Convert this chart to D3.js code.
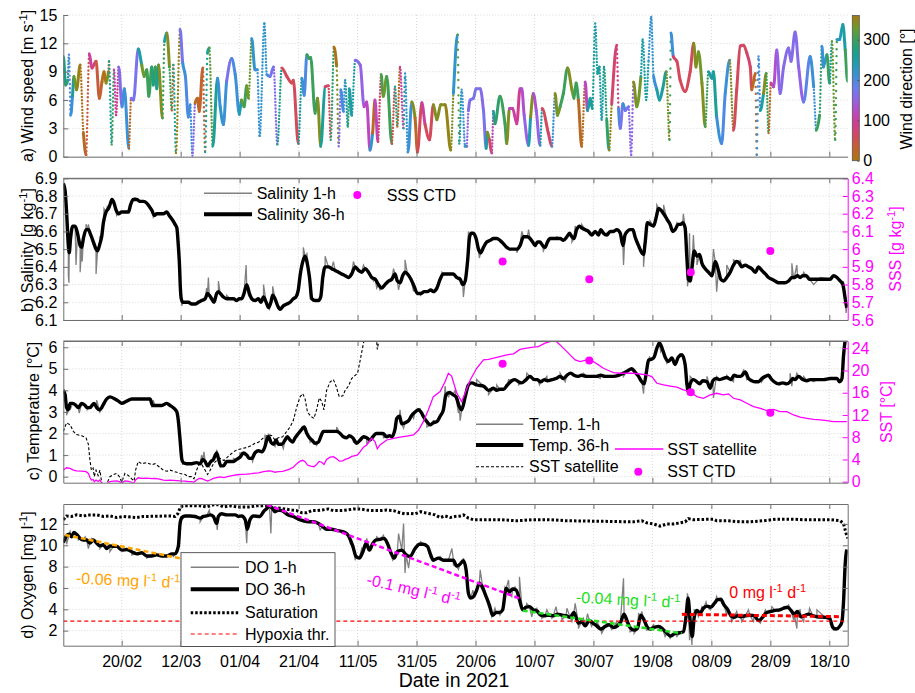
<!DOCTYPE html>
<html>
<head>
<meta charset="utf-8">
<script src="https://cdn.jsdelivr.net/npm/d3@7"></script>
<style>
  body { margin: 0; background: #fff; }
  svg { font-family: "Liberation Sans", Arial, Helvetica, sans-serif; }
</style>
</head>
<body>
<svg id="chart" width="915" height="693"></svg>
<script>
// ---- data (time = days since 1 Jan 2021) ----

// wind: [day, speed m/s, direction deg]
const wind = [[30.2,10.6,270],[31.0,7.6,290],[31.7,8.1,260],[32.1,10.8,190],[32.7,4.4,210],[33.3,6.4,260],[33.8,8.5,330],[34.7,7.1,350],[35.9,9.7,10],[37.0,2.5,20],[37.9,0.2,40],[39.0,10.9,100],[39.9,9.4,80],[41.3,10.1,40],[42.4,6.2,30],[43.3,7.9,10],[44.0,9.0,10],[44.7,7.8,340],[45.5,9.0,20],[45.7,10.1,260],[46.6,1.3,300],[47.4,9.2,110],[48.1,4.4,90],[49.0,9.5,160],[50.1,5.3,200],[50.9,7.2,210],[52.4,0.9,20],[53.2,6.2,170],[54.0,6.0,170],[55.6,11.4,250],[56.8,9.7,330],[57.6,8.5,320],[58.5,9.2,300],[59.2,6.4,300],[60.2,9.5,290],[60.7,7.6,270],[61.4,9.5,300],[61.9,7.2,260],[62.5,9.7,340],[63.8,4.1,300],[64.5,12.2,250],[65.3,13.1,340],[66.2,9.5,300],[67.0,4.9,20],[67.5,9.7,260],[68.4,0.4,350],[69.8,13.5,170],[70.7,9.9,210],[71.6,8.5,200],[72.6,4.2,200],[73.2,5.5,210],[74.0,0.1,160],[74.9,5.7,20],[75.7,6.2,20],[76.3,4.8,30],[77.5,9.4,30],[78.3,0.5,260],[79.1,11.0,260],[79.7,11.5,320],[80.9,1.1,260],[82.5,8.3,210],[83.4,5.3,220],[84.5,3.4,210],[85.6,8.0,170],[87.3,10.4,200],[88.5,8.7,210],[89.9,4.5,240],[90.6,6.0,330],[91.5,5.3,300],[92.4,7.5,330],[93.0,6.2,330],[94.1,12.5,220],[95.2,9.2,210],[96.0,9.2,210],[96.8,2.2,220],[98.4,14.1,220],[99.2,8.7,210],[100.3,8.5,170],[101.5,9.5,160],[102.8,1.3,270],[104.3,9.4,60],[106.0,8.5,60],[107.7,7.8,50],[108.2,8.1,60],[109.9,1.4,260],[111.1,8.3,210],[111.9,6.5,200],[112.8,10.8,300],[113.6,10.4,300],[114.1,10.5,300],[115.6,4.6,300],[116.4,6.2,340],[117.5,1.1,260],[119.0,7.4,70],[120.1,7.5,60],[120.9,1.8,290],[122.0,11.6,10],[122.9,9.6,340],[123.6,1.1,160],[124.3,7.1,200],[125.2,4.8,210],[125.8,8.1,250],[126.7,3.2,290],[127.2,7.2,250],[128.0,4.4,250],[129.2,10.2,160],[130.9,9.7,150],[132.2,5.3,120],[133.1,5.8,120],[134.2,0.7,220],[135.1,2.5,20],[135.9,6.0,120],[136.9,1.6,70],[138.0,8.7,310],[138.7,6.4,330],[139.9,8.5,300],[141.6,1.4,50],[142.7,7.4,260],[143.5,3.2,20],[144.4,9.5,100],[145.6,3.0,250],[146.1,8.8,220],[147.1,0.5,210],[148.4,5.8,340],[149.5,4.1,20],[150.3,0.5,60],[151.8,5.7,100],[152.9,3.4,60],[154.4,1.8,60],[155.7,5.5,340],[156.9,3.9,340],[158.2,5.5,340],[159.7,5.5,350],[161.6,0.7,340],[162.5,6.7,220],[163.9,12.9,320],[164.5,1.4,250],[165.3,7.1,210],[166.5,1.1,250],[167.0,1.1,150],[167.6,4.9,160],[168.2,6.0,170],[169.3,6.2,170],[170.2,7.2,170],[171.6,7.2,160],[172.7,4.9,170],[173.6,0.9,250],[174.0,2.6,340],[174.7,1.8,60],[175.5,0.4,120],[176.1,4.8,260],[176.6,3.5,290],[178.3,6.4,300],[180.0,3.5,300],[180.6,1.4,340],[181.5,5.1,120],[182.6,5.1,100],[184.0,3.5,90],[185.1,7.2,120],[185.7,7.2,130],[186.5,4.4,150],[188.0,1.2,240],[188.7,4.2,340],[189.6,6.7,130],[190.6,4.9,150],[191.9,1.2,240],[192.6,5.1,60],[194.7,2.5,70],[195.9,1.1,210],[197.0,6.7,340],[197.8,4.4,330],[198.7,5.3,300],[199.8,6.7,300],[201.2,9.4,340],[202.7,7.1,330],[203.4,6.2,300],[204.1,7.8,300],[204.9,6.0,20],[206.0,1.1,15],[207.2,7.9,120],[208.0,4.9,250],[208.9,6.2,260],[209.6,5.1,260],[210.6,14.1,250],[211.4,8.8,260],[212.0,9.5,250],[212.8,3.9,250],[213.6,9.5,280],[214.5,3.9,290],[215.3,0.7,350],[216.2,5.6,70],[217.9,11.8,80],[218.5,5.1,200],[219.1,3.0,170],[220.0,5.6,210],[220.8,4.9,170],[221.9,5.3,160],[222.8,0.2,150],[223.6,7.9,340],[224.7,5.3,330],[226.1,8.5,250],[226.7,12.4,250],[227.9,6.0,250],[228.7,10.2,210],[229.6,14.8,220],[230.4,8.5,210],[231.5,7.1,250],[232.4,6.0,250],[233.5,7.2,260],[234.7,9.0,340],[235.8,1.8,300],[236.3,13.1,210],[237.1,10.6,70],[238.3,10.1,60],[239.4,8.1,60],[241.1,6.9,60],[242.8,9.0,60],[244.0,12.0,340],[244.8,9.5,340],[245.6,11.1,330],[246.8,7.8,340],[247.9,3.2,300],[249.0,9.0,250],[250.2,8.3,250],[250.7,9.0,260],[251.8,4.2,210],[253.5,1.4,200],[254.7,6.7,210],[256.2,10.2,340],[257.5,2.8,60],[258.6,7.1,60],[259.8,11.7,70],[260.9,11.8,60],[262.0,11.0,70],[263.2,9.5,60],[263.7,7.1,20],[264.9,8.8,20],[265.4,0.2,210],[266.0,10.6,200],[266.6,4.9,250],[267.7,6.7,340],[268.6,8.8,300],[269.4,2.5,20],[270.2,7.8,100],[271.1,7.4,130],[272.2,11.3,150],[273.3,6.7,160],[274.5,9.5,160],[276.2,11.5,160],[277.0,10.1,160],[278.4,13.2,160],[279.6,9.5,150],[281.3,5.8,190],[283.5,10.6,210],[284.7,7.4,210],[285.6,2.8,300],[286.7,4.4,290],[287.5,11.7,210],[288.0,9.5,220],[289.2,10.8,300],[290.1,7.8,260],[290.9,12.2,330],[292.0,1.8,300],[292.6,12.4,220],[293.5,12.4,240],[294.6,14.0,250],[295.4,11.3,300],[296.2,8.0,340]];

// salinity 36-h [day, g/kg]
const sal36 = [[30.2,6.87],[30.8,6.83],[31.3,6.71],[31.9,6.52],[32.2,6.48],[32.7,6.57],[33.4,6.63],[34.2,6.63],[35.0,6.59],[35.9,6.52],[36.4,6.51],[37.0,6.56],[37.9,6.61],[38.7,6.61],[39.5,6.58],[40.4,6.54],[41.3,6.50],[41.8,6.49],[42.6,6.53],[43.2,6.57],[43.8,6.65],[44.7,6.71],[45.5,6.73],[46.0,6.75],[46.7,6.78],[47.4,6.76],[48.1,6.72],[48.9,6.70],[50.0,6.71],[51.1,6.71],[52.3,6.71],[53.0,6.75],[53.9,6.78],[55.1,6.78],[56.2,6.77],[57.3,6.77],[58.5,6.76],[59.4,6.74],[60.2,6.72],[61.1,6.69],[61.9,6.70],[63.0,6.70],[64.1,6.70],[65.3,6.71],[66.1,6.69],[67.0,6.67],[68.1,6.64],[68.7,6.62],[69.2,6.52],[69.6,6.41],[69.9,6.28],[70.2,6.22],[70.7,6.20],[71.5,6.20],[72.6,6.20],[73.7,6.19],[74.9,6.19],[76.0,6.20],[77.1,6.21],[78.3,6.22],[79.1,6.25],[79.7,6.24],[80.5,6.22],[81.3,6.20],[82.2,6.25],[82.8,6.26],[83.4,6.25],[84.5,6.23],[85.6,6.22],[86.8,6.22],[87.9,6.22],[89.0,6.21],[89.9,6.22],[90.7,6.22],[91.5,6.25],[92.4,6.30],[93.3,6.25],[94.1,6.22],[95.2,6.21],[96.4,6.22],[97.2,6.20],[98.1,6.23],[99.0,6.20],[99.8,6.17],[100.6,6.20],[101.2,6.24],[102.0,6.22],[102.9,6.18],[103.7,6.16],[104.8,6.18],[106.0,6.19],[107.1,6.20],[108.2,6.22],[109.1,6.23],[109.9,6.27],[110.5,6.35],[111.6,6.44],[112.2,6.46],[112.8,6.43],[113.7,6.34],[114.5,6.22],[115.6,6.21],[116.7,6.21],[117.5,6.23],[118.2,6.34],[119.0,6.40],[120.1,6.40],[121.2,6.39],[122.4,6.38],[123.5,6.37],[124.6,6.36],[125.8,6.35],[126.9,6.34],[128.0,6.36],[129.2,6.40],[130.3,6.38],[131.4,6.37],[132.6,6.39],[133.7,6.37],[134.8,6.34],[136.0,6.33],[137.1,6.30],[138.2,6.28],[139.3,6.30],[140.5,6.32],[141.6,6.33],[142.7,6.36],[143.5,6.32],[144.4,6.31],[145.3,6.35],[146.1,6.37],[146.9,6.36],[148.1,6.33],[149.2,6.29],[150.3,6.25],[151.4,6.25],[152.6,6.26],[153.7,6.26],[154.8,6.27],[155.7,6.26],[156.9,6.28],[158.0,6.33],[159.1,6.36],[160.3,6.36],[161.4,6.36],[162.5,6.36],[163.6,6.34],[164.8,6.33],[165.7,6.30],[166.5,6.32],[167.3,6.43],[168.0,6.57],[168.6,6.59],[169.3,6.59],[170.2,6.56],[171.0,6.50],[171.8,6.48],[172.7,6.51],[173.8,6.54],[175.0,6.55],[176.1,6.56],[177.2,6.56],[178.3,6.55],[179.5,6.53],[180.6,6.51],[181.7,6.50],[182.9,6.50],[184.0,6.50],[185.1,6.52],[186.3,6.57],[187.6,6.57],[188.5,6.56],[189.4,6.54],[190.2,6.52],[191.0,6.54],[191.9,6.54],[192.8,6.52],[193.6,6.51],[194.4,6.54],[195.3,6.56],[196.4,6.56],[197.6,6.56],[198.7,6.56],[199.8,6.55],[201.0,6.57],[201.9,6.59],[202.7,6.57],[203.4,6.56],[204.3,6.61],[205.3,6.63],[206.0,6.62],[207.2,6.61],[208.3,6.60],[209.4,6.58],[210.6,6.60],[211.7,6.58],[212.5,6.61],[213.4,6.59],[214.5,6.58],[215.7,6.60],[216.8,6.60],[217.9,6.61],[219.1,6.59],[220.0,6.52],[220.7,6.58],[221.5,6.60],[222.4,6.61],[223.4,6.61],[224.1,6.57],[225.3,6.52],[226.4,6.48],[227.0,6.47],[227.5,6.53],[228.3,6.65],[229.2,6.64],[230.4,6.63],[231.3,6.68],[232.1,6.73],[232.9,6.72],[233.8,6.70],[234.9,6.67],[236.0,6.64],[236.9,6.60],[237.7,6.61],[238.8,6.64],[239.6,6.64],[240.3,6.65],[241.1,6.62],[241.7,6.45],[242.2,6.33],[242.8,6.32],[243.4,6.39],[244.2,6.49],[245.1,6.46],[246.0,6.47],[246.8,6.42],[247.9,6.39],[249.0,6.37],[250.2,6.35],[251.3,6.43],[252.4,6.38],[253.2,6.33],[254.1,6.32],[255.2,6.34],[256.4,6.37],[257.5,6.41],[258.6,6.43],[259.5,6.42],[260.3,6.40],[261.5,6.41],[262.6,6.40],[263.7,6.39],[264.9,6.37],[266.0,6.40],[267.1,6.38],[268.3,6.36],[269.4,6.34],[270.5,6.33],[271.6,6.32],[272.8,6.31],[275.0,6.31],[276.2,6.32],[277.3,6.34],[278.1,6.34],[279.2,6.35],[280.1,6.34],[281.0,6.35],[282.2,6.35],[283.3,6.33],[290.3,6.33],[291.4,6.35],[292.6,6.34],[293.7,6.32],[294.6,6.30],[295.4,6.22],[295.9,6.17]];

// extra 1-h salinity excursions [day, g/kg]
const sal1hPeaks = [[31.9,6.35],[32.1,6.31],[32.7,6.54],[34.5,6.41],[35.9,6.37],[36.6,6.43],[37.9,6.64],[38.7,6.64],[41.3,6.36],[42.6,6.57],[44.0,6.73],[45.1,6.74],[48.3,6.69],[54.5,6.79],[60.7,6.68],[67.0,6.67],[70.4,6.18],[78.8,6.28],[79.4,6.34],[80.0,6.23],[82.8,6.32],[85.6,6.24],[92.2,6.41],[93.0,6.24],[98.1,6.30],[100.1,6.16],[101.2,6.29],[111.6,6.51],[112.8,6.48],[113.9,6.22],[119.0,6.46],[121.8,6.43],[128.6,6.43],[132.0,6.41],[135.4,6.32],[136.5,6.28],[137.6,6.27],[142.2,6.39],[143.9,6.27],[146.1,6.44],[149.0,6.26],[151.4,6.24],[158.6,6.37],[165.9,6.23],[167.6,6.60],[171.3,6.45],[184.0,6.48],[185.7,6.60],[188.0,6.61],[193.0,6.49],[197.6,6.57],[202.7,6.54],[203.8,6.63],[206.0,6.64],[214.5,6.59],[220.2,6.41],[227.0,6.40],[229.2,6.66],[231.5,6.75],[233.8,6.75],[238.3,6.65],[240.5,6.70],[241.9,6.29],[242.6,6.59],[243.9,6.58],[245.1,6.41],[250.7,6.50],[251.8,6.26],[255.2,6.41],[257.5,6.44],[259.8,6.44],[264.3,6.37],[277.3,6.42],[277.9,6.33],[279.0,6.41],[281.3,6.37],[284.7,6.30],[286.9,6.34],[294.8,6.32],[295.7,6.14]];

// CTD casts
const ctdDates = [179.2, 208.6, 243.0, 270.0];
const sssCTD = [5.93, 5.83, 5.87, 5.99];
const sstCTD = [21.2, 21.8, 16.1, 12.4];

// temperature 36-h [day, degC]
const temp36 = [[30.2,4.0],[30.8,3.8],[31.3,3.2],[31.9,3.1],[32.5,3.4],[33.4,3.4],[34.5,3.3],[35.3,3.2],[36.4,3.4],[37.6,3.3],[38.3,3.2],[39.2,3.2],[40.6,3.4],[41.5,3.2],[42.4,3.1],[43.2,3.2],[44.0,3.4],[44.9,3.6],[46.0,3.7],[47.7,3.6],[48.9,3.5],[50.0,3.4],[51.7,3.5],[53.4,3.6],[55.1,3.6],[56.8,3.6],[58.5,3.6],[59.6,3.6],[60.5,3.3],[61.3,3.3],[62.4,3.3],[63.6,3.3],[65.3,3.4],[66.4,3.3],[67.5,3.2],[68.7,3.0],[69.2,2.6],[69.8,1.7],[70.4,0.8],[70.9,0.65],[72.0,0.6],[73.7,0.6],[75.4,0.65],[76.6,0.6],[77.5,0.8],[78.3,0.7],[79.1,0.5],[80.2,0.7],[81.1,0.8],[82.2,1.1],[82.8,0.85],[83.6,0.5],[84.5,0.5],[85.6,0.7],[87.9,0.7],[89.0,0.8],[90.1,0.9],[91.3,1.1],[92.4,1.0],[93.3,0.85],[94.1,0.85],[95.2,1.1],[96.4,1.2],[97.5,1.15],[98.6,1.4],[99.2,1.7],[99.8,1.85],[100.6,1.6],[101.5,1.5],[102.4,1.7],[103.1,1.5],[104.3,1.5],[105.4,1.7],[106.2,1.85],[107.1,1.7],[108.0,1.6],[108.8,1.8],[109.9,2.0],[111.1,2.2],[111.9,2.3],[112.8,2.0],[113.7,1.8],[114.5,1.7],[115.6,1.55],[116.7,1.6],[117.5,1.85],[118.4,2.1],[120.7,2.1],[122.9,2.1],[124.1,2.0],[125.2,1.85],[126.3,1.8],[127.2,1.9],[128.4,1.8],[129.7,1.55],[130.9,1.7],[132.0,1.85],[133.1,1.8],[134.2,1.7],[135.2,1.85],[136.3,2.0],[138.6,2.0],[139.9,1.85],[140.8,1.9],[141.6,1.85],[142.7,2.2],[143.3,2.7],[144.2,2.8],[145.0,2.45],[146.1,2.5],[147.3,2.6],[148.4,2.85],[149.5,3.0],[150.7,3.1],[151.5,3.0],[152.3,2.8],[153.5,2.55],[154.6,2.4],[155.7,2.5],[156.9,2.55],[158.0,2.8],[159.1,3.1],[160.0,3.8],[161.2,3.9],[162.3,3.8],[163.4,3.7],[164.5,3.25],[165.3,3.1],[166.5,3.7],[167.6,4.25],[168.7,4.35],[170.4,4.25],[172.7,4.2],[174.4,4.0],[176.1,4.1],[177.2,4.0],[178.3,4.05],[179.5,4.05],[180.8,4.25],[182.3,4.45],[183.4,4.5],[184.6,4.4],[185.7,4.35],[187.2,4.5],[188.5,4.65],[189.9,4.5],[191.0,4.5],[192.1,4.4],[193.3,4.5],[194.4,4.45],[195.9,4.5],[197.3,4.55],[198.7,4.65],[199.8,4.55],[201.0,4.7],[202.3,4.8],[203.4,4.7],[204.9,4.65],[206.0,4.7],[207.7,4.65],[209.4,4.65],[210.9,4.65],[212.5,4.7],[214.0,4.65],[215.4,4.65],[216.8,4.65],[218.5,4.7],[220.2,4.8],[221.5,4.9],[223.0,5.0],[224.1,4.85],[225.3,4.65],[226.4,4.4],[227.2,4.3],[227.9,4.8],[228.7,5.4],[229.8,5.45],[230.6,5.55],[231.5,5.95],[232.4,6.2],[233.3,5.95],[234.3,5.55],[235.5,5.35],[236.6,5.5],[237.7,5.2],[238.8,5.55],[240.0,5.65],[241.1,5.2],[241.7,4.3],[242.2,3.95],[242.8,4.3],[243.9,4.5],[245.1,4.4],[246.0,4.3],[247.1,4.45],[248.5,4.4],[249.6,4.1],[250.5,4.45],[251.6,4.55],[252.7,4.5],[253.9,4.55],[255.2,4.6],[256.6,4.5],[257.7,4.7],[258.9,4.65],[260.0,4.65],[261.5,4.85],[262.6,4.55],[263.7,4.45],[264.9,4.4],[266.0,4.4],[267.1,4.55],[268.3,4.65],[269.4,4.7],[270.2,4.55],[271.3,4.4],[272.8,4.3],[274.2,4.35],[275.6,4.3],[276.7,4.4],[277.6,4.55],[278.4,4.5],[279.6,4.65],[281.0,4.5],[282.4,4.45],[283.5,4.5],[285.8,4.5],[288.0,4.5],[290.3,4.55],[292.6,4.55],[293.5,4.4],[294.3,4.55],[294.8,5.55],[295.4,6.3],[296.3,6.5]];

// extra 1-h temperature excursions
const temp1hPeaks = [[31.3,2.85],[32.5,3.1],[35.6,2.95],[38.3,3.1],[41.5,3.55],[42.6,3.0],[60.2,3.25],[60.7,3.55],[70.7,0.55],[77.1,1.0],[77.9,1.15],[79.7,0.45],[82.2,1.25],[83.4,0.45],[87.9,0.85],[90.1,1.1],[94.4,0.7],[98.6,1.95],[99.8,2.0],[102.0,1.4],[104.8,1.3],[111.1,2.3],[113.9,1.6],[116.1,1.45],[122.9,2.3],[128.6,1.6],[133.1,1.55],[138.8,1.8],[142.2,1.85],[144.4,3.1],[145.6,2.25],[149.0,2.7],[151.2,3.15],[153.5,2.3],[155.7,2.6],[159.7,4.2],[160.9,3.7],[163.1,4.0],[164.2,2.95],[164.8,2.6],[165.7,3.3],[167.0,3.95],[170.4,4.5],[174.4,3.8],[177.2,4.25],[181.2,4.5],[184.6,4.25],[187.4,4.8],[191.7,4.25],[194.2,4.65],[198.7,4.8],[200.4,4.4],[206.6,4.8],[212.3,4.55],[220.2,4.65],[227.0,3.85],[229.0,5.55],[232.1,6.25],[232.8,5.8],[234.9,5.25],[239.4,5.7],[241.9,3.8],[242.8,4.65],[248.5,4.65],[250.7,3.65],[251.8,4.65],[255.2,4.7],[257.5,4.4],[260.9,4.95],[262.0,4.5],[267.1,4.4],[276.7,4.8],[277.3,4.2],[279.0,4.8],[281.3,4.65],[284.7,4.4]];

// satellite SST [day, degC]
const sstSat = [[30.2,2.1],[31.3,2.5],[32.5,2.4],[33.6,2.1],[34.7,1.95],[36.4,1.9],[37.9,1.8],[38.7,1.5],[39.2,0.8],[39.7,0.3],[40.3,0.4],[40.7,0.0],[41.3,0.3],[42.0,0.05],[42.6,0.3],[43.3,-0.35],[44.7,-0.4],[46.0,0.0],[47.2,0.1],[48.3,0.15],[49.2,0.0],[50.0,-0.25],[51.1,0.15],[52.3,0.05],[53.4,-0.1],[54.2,-0.2],[54.7,0.3],[55.6,0.7],[56.8,0.6],[58.5,0.65],[60.2,0.55],[61.3,0.6],[62.8,0.45],[64.1,0.3],[65.3,0.25],[66.4,0.3],[67.5,0.25],[68.7,0.2],[69.8,0.15],[71.5,0.1],[72.6,0.0],[73.7,0.0],[74.5,-0.1],[75.4,0.3],[76.3,0.6],[77.2,0.55],[78.3,0.3],[79.1,0.1],[80.0,0.3],[81.1,0.6],[82.2,0.75],[83.4,0.85],[84.7,0.75],[86.2,0.95],[87.9,1.15],[89.2,1.25],[90.7,1.3],[92.4,1.35],[94.1,1.45],[95.2,1.55],[96.4,1.6],[98.1,1.8],[99.8,1.95],[100.9,1.9],[102.0,1.7],[103.1,1.8],[104.6,1.85],[106.0,2.1],[107.1,2.3],[108.2,2.6],[109.4,3.25],[110.5,3.7],[111.4,3.85],[112.2,3.6],[113.0,3.0],[114.1,2.8],[115.2,2.7],[116.1,3.1],[117.0,3.65],[117.8,3.5],[118.6,3.1],[119.5,4.0],[120.7,4.4],[121.8,4.5],[122.7,4.2],[123.8,3.7],[125.0,3.75],[125.8,4.0],[126.9,4.2],[128.0,4.55],[129.2,4.7],[130.0,4.8],[130.9,5.4],[132.0,6.2],[133.1,6.6],[134.8,7.8],[135.9,7.2],[136.7,5.9],[137.6,6.6],[139.9,7.5],[142.2,7.8],[144.4,8.0],[146.7,8.2],[149.0,8.4],[150.7,9.3],[152.3,10.8],[154.0,12.9],[155.7,15.3],[158.0,16.2],[159.7,18.0],[160.8,19.5],[161.9,19.0],[163.6,16.0],[165.3,14.4],[166.5,16.0],[168.2,18.3],[170.4,20.4],[172.7,21.9],[174.4,22.0],[176.1,22.2],[178.3,22.5],[180.6,22.8],[182.9,23.0],[185.1,23.8],[187.4,24.0],[189.6,24.2],[191.3,24.3],[193.6,24.9],[195.3,25.2],[197.0,25.4],[198.7,24.6],[200.4,23.7],[202.1,22.8],[203.8,21.9],[205.5,21.6],[207.7,21.9],[210.0,21.6],[211.7,21.0],[213.4,20.4],[215.1,20.0],[216.8,19.6],[219.1,19.5],[223.6,19.5],[228.1,19.2],[229.8,18.9],[231.5,17.7],[233.8,17.4],[236.0,17.2],[238.3,17.0],[240.5,16.5],[242.8,16.2],[245.1,15.3],[247.3,15.0],[249.6,15.6],[251.8,15.9],[254.1,15.6],[255.8,15.8],[257.5,15.0],[259.8,14.7],[262.0,14.1],[264.3,13.5],[266.6,13.2],[268.8,12.8],[271.1,13.0],[273.3,12.6],[275.6,12.6],[277.9,12.0],[280.1,11.6],[282.4,11.4],[284.7,11.2],[286.9,11.1],[289.2,11.0],[291.4,10.8],[295.9,10.8]];

// oxygen saturation [day, mg/l]
const doSat = [[30.2,12.4],[31.3,12.75],[33.0,12.7],[34.7,12.85],[37.0,12.75],[39.2,12.85],[41.5,12.85],[43.8,12.7],[46.0,12.75],[48.3,12.6],[50.6,12.7],[55.1,12.6],[57.3,12.7],[66.4,12.75],[68.1,12.7],[69.0,12.95],[69.8,13.5],[70.7,13.7],[76.6,13.7],[78.8,13.6],[81.1,13.8],[82.8,13.8],[84.5,13.6],[86.8,13.7],[89.0,13.6],[93.5,13.6],[95.8,13.7],[99.2,13.7],[100.9,13.5],[103.1,13.5],[105.4,13.4],[107.7,13.3],[109.4,13.25],[111.1,13.05],[112.8,13.05],[114.5,13.25],[116.1,13.25],[117.8,13.3],[120.1,13.4],[121.8,13.25],[124.1,13.25],[126.3,13.3],[128.6,13.4],[130.9,13.4],[133.1,13.3],[135.4,13.25],[137.6,13.25],[139.9,13.3],[142.2,13.25],[144.4,13.05],[146.1,12.95],[147.8,13.0],[149.5,12.95],[151.4,13.15],[152.9,13.05],[154.6,12.95],[156.3,12.85],[158.0,12.6],[159.7,12.75],[161.4,12.6],[163.1,12.7],[164.8,12.75],[165.9,12.85],[167.6,12.55],[169.3,12.4],[178.3,12.4],[184.0,12.3],[189.6,12.4],[195.3,12.4],[201.0,12.3],[223.6,12.2],[226.4,12.3],[228.1,12.1],[230.4,12.0],[232.6,11.8],[234.9,12.0],[237.1,12.0],[239.4,12.1],[241.1,12.2],[242.2,12.5],[243.9,12.4],[250.7,12.45],[251.8,12.3],[255.2,12.3],[259.8,12.2],[263.2,12.2],[267.7,12.3],[272.2,12.45],[276.7,12.45],[281.3,12.4],[290.3,12.4],[293.7,12.3],[294.8,12.05],[295.7,11.1],[296.3,10.65]];

// dissolved oxygen 36-h [day, mg/l]
const do36 = [[30.2,10.25],[30.8,10.65],[31.3,10.9],[32.2,11.05],[33.0,10.8],[33.8,11.2],[35.0,10.95],[35.9,10.65],[37.0,10.5],[38.1,10.5],[39.2,10.2],[40.4,10.5],[41.5,10.2],[42.6,9.95],[43.8,10.05],[44.9,9.7],[46.0,9.95],[47.2,9.9],[48.3,9.9],[50.0,9.55],[51.7,9.6],[53.4,9.4],[55.1,9.2],[56.8,9.3],[58.5,9.0],[60.2,9.0],[61.9,9.1],[63.6,9.0],[65.3,9.0],[67.0,9.2],[68.1,9.2],[69.2,9.9],[69.8,12.05],[70.4,12.6],[71.5,12.75],[73.2,12.75],[74.9,12.7],[76.6,12.55],[77.7,12.7],[78.8,12.75],[80.0,12.85],[81.1,12.7],[82.2,12.05],[82.8,12.7],[83.9,12.95],[85.6,12.85],[88.5,12.85],[89.6,12.7],[90.7,12.75],[91.9,12.4],[92.6,11.5],[93.5,12.4],[94.7,12.75],[96.9,12.7],[98.1,13.15],[99.2,13.45],[100.1,13.7],[100.9,13.55],[102.0,13.15],[103.1,13.3],[104.3,13.25],[105.4,13.05],[106.5,12.85],[108.2,12.7],[109.9,12.45],[111.6,12.3],[113.3,12.2],[115.0,12.2],[116.7,12.05],[118.2,11.75],[119.5,11.5],[121.2,11.5],[122.9,11.4],[124.6,11.3],[126.3,11.1],[127.5,10.55],[128.4,9.9],[129.5,8.95],[130.6,8.8],[131.8,9.4],[132.9,10.2],[134.0,9.55],[135.2,10.2],[136.3,10.5],[137.6,10.55],[139.0,10.65],[140.1,10.2],[141.3,9.3],[142.4,8.8],[143.5,9.4],[145.0,9.55],[146.5,9.1],[147.8,8.95],[149.5,9.7],[151.0,10.1],[152.3,10.1],[153.7,9.9],[154.8,9.1],[155.7,8.6],[157.4,8.8],[159.1,8.6],[160.8,8.6],[162.5,8.6],[163.6,8.05],[164.8,8.25],[165.9,8.55],[166.8,7.7],[167.6,5.5],[168.4,5.05],[169.5,5.25],[170.4,5.8],[171.3,6.45],[172.5,5.95],[173.6,5.2],[174.7,4.4],[175.8,3.45],[177.0,3.7],[178.1,3.7],[179.2,3.95],[180.4,5.95],[181.5,5.65],[182.6,5.9],[183.8,5.8],[184.9,4.9],[186.0,3.95],[187.2,4.2],[188.3,4.25],[189.6,3.95],[191.0,3.8],[192.1,3.45],[193.6,3.4],[195.1,3.45],[196.4,3.4],[197.8,3.55],[199.3,3.45],[200.7,3.4],[202.1,3.25],[203.4,3.7],[204.9,2.7],[206.0,2.85],[207.2,2.45],[208.6,2.95],[209.8,2.7],[211.1,2.45],[212.5,2.15],[214.0,2.4],[215.4,2.55],[216.8,2.3],[218.1,2.45],[219.3,2.85],[220.4,3.55],[221.3,3.0],[222.4,2.3],[223.8,2.05],[224.9,2.2],[226.1,3.45],[227.0,3.1],[228.1,2.4],[229.2,2.15],[230.6,2.3],[232.1,2.4],[233.5,2.15],[234.9,1.75],[236.2,1.5],[237.7,1.75],[239.2,1.8],[240.5,1.9],[241.4,3.3],[242.1,5.05],[242.8,2.95],[243.5,1.45],[244.2,3.3],[245.1,3.9],[246.2,3.65],[247.3,4.1],[248.5,4.3],[249.8,4.2],[251.0,4.55],[252.1,4.9],[253.2,4.95],[254.3,4.4],[255.5,4.0],[256.6,3.4],[257.7,3.25],[258.9,3.4],[260.0,3.3],[261.5,3.4],[263.0,3.45],[264.5,3.4],[266.0,2.95],[267.5,3.3],[268.8,3.7],[270.2,3.8],[271.6,3.9],[273.1,3.95],[274.5,4.1],[275.8,4.2],[277.0,3.9],[278.1,3.55],[279.2,3.8],[280.4,3.3],[281.5,3.4],[283.0,3.55],[284.4,3.4],[285.8,3.3],[288.6,3.25],[290.1,3.15],[291.2,2.3],[292.3,2.15],[293.5,2.4],[294.3,2.85],[294.8,4.55],[295.4,8.3],[295.9,9.6]];

// extra 1-h oxygen excursions
const do1hPeaks = [[31.3,10.1],[32.5,11.3],[35.3,10.5],[37.6,10.8],[38.7,9.7],[39.8,10.65],[42.6,9.7],[46.0,9.4],[53.4,9.1],[58.5,8.8],[67.5,8.95],[70.4,12.4],[76.6,12.2],[79.7,13.3],[82.4,11.45],[92.4,10.2],[100.6,11.1],[117.3,11.45],[127.5,10.2],[129.2,8.6],[131.4,9.7],[133.1,10.65],[136.5,10.8],[138.8,10.95],[141.9,8.6],[143.9,11.1],[145.6,12.05],[146.1,7.4],[147.3,7.85],[151.4,10.35],[154.6,8.95],[158.0,8.95],[162.0,9.7],[162.5,8.15],[164.2,7.75],[165.9,8.8],[167.0,7.4],[168.0,5.05],[169.1,5.8],[171.6,7.7],[172.7,6.3],[174.4,4.25],[175.5,3.3],[176.6,4.1],[178.3,3.45],[180.0,6.1],[181.2,6.75],[182.3,5.2],[183.4,6.1],[184.9,7.05],[185.7,4.4],[187.4,4.55],[189.1,3.3],[190.8,4.1],[192.5,3.15],[194.2,3.95],[195.9,3.15],[197.3,4.25],[199.3,3.0],[201.0,4.1],[202.7,2.85],[203.8,4.55],[204.9,2.2],[206.6,3.15],[208.0,3.6],[209.4,2.4],[211.1,2.85],[212.8,1.75],[214.5,2.7],[216.2,2.1],[217.9,2.85],[219.3,3.45],[220.2,6.9],[221.1,2.7],[222.4,1.9],[223.8,1.75],[225.3,3.6],[226.4,3.8],[228.1,2.05],[230.4,2.55],[232.6,2.05],[234.3,1.45],[236.0,1.3],[238.3,1.45],[240.5,2.2],[241.9,5.5],[242.6,1.1],[243.4,0.65],[244.2,3.95],[245.6,3.3],[246.8,4.25],[248.2,4.7],[249.6,3.95],[251.8,5.2],[253.5,4.55],[255.2,3.45],[256.9,2.85],[258.6,3.8],[260.3,2.85],[262.6,3.95],[264.3,2.85],[266.6,2.7],[268.3,3.95],[270.5,4.25],[272.8,3.8],[274.5,4.25],[276.2,4.4],[277.9,3.0],[279.0,2.2],[280.1,3.95],[281.3,2.85],[283.3,4.1],[285.8,3.95],[290.3,3.3],[291.4,2.05]];

// oxygen trends: start/end day, start/end value, label rate
const trendDays = [[30.8, 69.8], [99.2, 185.7], [186.0, 240.0], [240.0, 294.3]];
const trendValues = [[10.97, 8.78], [13.8, 4.94], [3.875, 1.75], [3.53, 3.31]];
const trendRates = ['-0.06', '-0.1', '-0.04', '0'];
const hypoxiaThreshold = 2.9;

// tick values
const dateTickDays = [50, 70, 90, 110, 130, 150, 170, 190, 210, 230, 250, 270, 290];
const windTicks = [0, 3, 6, 9, 12, 15];
const dirTicks = [0, 100, 200, 300];
const salTicks = [6.1, 6.2, 6.3, 6.4, 6.5, 6.6, 6.7, 6.8, 6.9];
const sssTicks = [5.6, 5.7, 5.8, 5.9, 6.0, 6.1, 6.2, 6.3, 6.4];
const tempTicks = [0, 1, 2, 3, 4, 5, 6];
const sstTicks = [0, 4, 8, 12, 16, 20, 24];
const doTicks = [2, 4, 6, 8, 10, 12];

// ---- drawing ----
const FONT = '"Liberation Sans", Arial, Helvetica, sans-serif';
const AXIS = '#6e6e6e';
const MAG = '#ff00ff';
const GRAY = '#808080';

const svg = d3.select('#chart');
const day = t => new Date(Date.UTC(2021, 0, 1) + t * 864e5);
const X0 = 63.3, X1 = 847.7;
const x = d3.scaleUtc().domain([day(30.19), day(296.24)]).range([X0, X1]);
const dateTicks = dateTickDays.map(day);

// cyclic direction colormap (cmocean "phase"-like)
const phase = ['#a8780d', '#c3622e', '#d24a5c', '#d23c90', '#be46c2', '#9462e6', '#6b7cf0',
               '#3a91d8', '#1e9db2', '#1aa08a', '#3aa05a', '#6f9a2a', '#a8780d'];
const dirColor = d3.scaleLinear()
  .domain(phase.map((_, i) => 360 * i / (phase.length - 1)))
  .range(phase)
  .interpolate(d3.interpolateRgb);

function makePanel(top, bottom, domain, ticks) {
  const y = d3.scaleLinear().domain(domain).range([bottom, top]);
  const id = 'clip' + Math.round(top);
  svg.append('clipPath').attr('id', id).append('rect')
    .attr('x', X0).attr('y', top).attr('width', X1 - X0).attr('height', bottom - top);
  const grid = svg.append('g')
    .attr('stroke', '#cfcfcf').attr('stroke-width', 0.8).attr('stroke-dasharray', '1 2');
  grid.append('g').selectAll('line').data(dateTicks).join('line')
    .attr('x1', d => x(d)).attr('x2', d => x(d)).attr('y1', top).attr('y2', bottom);
  grid.append('g').selectAll('line').data(ticks).join('line')
    .attr('x1', X0).attr('x2', X1).attr('y1', d => y(d)).attr('y2', d => y(d));
  const plot = svg.append('g').attr('clip-path', `url(#${id})`);
  return { y, plot, top, bottom };
}

function styleAxis(g, color, textColor) {
  g.attr('font-size', 16).attr('font-family', FONT).attr('color', color);
  g.selectAll('text').attr('fill', textColor);
}

function xAxes(p, withTop, withLabels) {
  svg.append('g').attr('transform', `translate(0,${p.bottom})`)
    .call(d3.axisBottom(x).tickValues(dateTicks).tickSize(-5).tickSizeOuter(0).tickPadding(10)
      .tickFormat(withLabels ? d3.utcFormat('%d/%m') : ''))
    .call(g => styleAxis(g, AXIS, '#000'));
  if (withTop) {
    svg.append('g').attr('transform', `translate(0,${p.top})`)
      .call(d3.axisTop(x).tickValues(dateTicks).tickSize(-5).tickSizeOuter(0).tickFormat(''))
      .call(g => styleAxis(g, AXIS, '#000'));
  }
}

function leftAxis(p, ticks) {
  svg.append('g').attr('transform', `translate(${X0},0)`)
    .call(d3.axisLeft(p.y).tickValues(ticks).tickSize(-5).tickSizeOuter(0).tickPadding(6).tickFormat(d3.format('~g')))
    .call(g => styleAxis(g, AXIS, '#000'));
}

function rightAxis(y, ticks, color, labels) {
  svg.append('g').attr('transform', `translate(${X1},0)`)
    .call(d3.axisRight(y).tickValues(ticks).tickSize(-5).tickSizeOuter(0).tickPadding(4)
      .tickFormat(labels ? d3.format('~g') : ''))
    .call(g => styleAxis(g, color, color));
}

function richText(parent, px, py, rot, parts, opts = {}) {
  const t = parent.append('text')
    .attr('transform', `translate(${px},${py}) rotate(${rot})`)
    .attr('font-size', opts.size || 16)
    .attr('fill', opts.color || '#000')
    .attr('text-anchor', opts.anchor || 'middle')
    .attr('dy', opts.dy || '0.35em');
  parts.forEach(([s, sup]) => {
    const ts = t.append('tspan').text(s);
    if (sup) ts.attr('baseline-shift', 'super').attr('font-size', '70%');
  });
  return t;
}

const lineOf = (y, curve) => d3.line().x(d => x(day(d[0]))).y(d => y(d[1])).curve(curve || d3.curveLinear);
const smooth = d3.curveMonotoneX;
const byDay = (a, b) => a[0] - b[0];

// ===== panel a: wind =====
const pa = makePanel(15, 156.7, [0, 15], windTicks);
{
  const px = wind.map(d => x(day(d[0]))), py = wind.map(d => pa.y(d[1]));
  const n = wind.length;
  // monotone tangents so peaks stay rounded without overshoot
  const m = px.map((_, i) => {
    if (i === 0 || i === n - 1) return 0;
    const s0 = (py[i] - py[i - 1]) / (px[i] - px[i - 1]);
    const s1 = (py[i + 1] - py[i]) / (px[i + 1] - px[i]);
    return s0 * s1 <= 0 ? 0 : 2 * s0 * s1 / (s0 + s1);
  });
  for (let i = 0; i < n - 1; i++) {
    const h = px[i + 1] - px[i];
    const d = `M${px[i]},${py[i]}C${px[i] + h / 3},${py[i] + m[i] * h / 3},` +
              `${px[i + 1] - h / 3},${py[i + 1] - m[i + 1] * h / 3},${px[i + 1]},${py[i + 1]}`;
    const seg = pa.plot.append('path').attr('d', d).attr('fill', 'none')
      .attr('stroke', dirColor(wind[i][2])).attr('stroke-linecap', 'round');
    const hours = (wind[i + 1][0] - wind[i][0]) * 24;
    const gap = seg.node().getTotalLength() / hours; // hourly sample spacing
    if (gap > 1.9) seg.attr('stroke-width', 2.4).attr('stroke-dasharray', `0 ${Math.max(gap, 3.2).toFixed(2)}`);
    else seg.attr('stroke-width', 3);
  }
}
leftAxis(pa, windTicks);
xAxes(pa, false, false);
richText(svg, 27, 86, -90, [['a) Wind speed [m s'], ['-1', true], [']']]);

// colorbar
const cb = { x: 852.3, w: 7, top: 15.5, bottom: 160.7 };
const cy = d3.scaleLinear().domain([0, 360]).range([cb.bottom, cb.top]);
const grad = svg.append('defs').append('linearGradient').attr('id', 'dirgrad')
  .attr('x1', 0).attr('y1', 1).attr('x2', 0).attr('y2', 0);
d3.range(0, 361, 10).forEach(v => grad.append('stop').attr('offset', v / 360).attr('stop-color', dirColor(v)));
svg.append('rect').attr('x', cb.x).attr('y', cb.top).attr('width', cb.w).attr('height', cb.bottom - cb.top)
  .attr('fill', 'url(#dirgrad)').attr('stroke', '#555').attr('stroke-width', 0.8);
svg.append('g').attr('transform', `translate(${cb.x + cb.w},0)`)
  .call(d3.axisRight(cy).tickValues(dirTicks).tickSize(-2).tickSizeOuter(0).tickPadding(4))
  .call(g => { styleAxis(g, '#555', '#000'); g.select('.domain').remove(); });
richText(svg, 906, 89, -90, [['Wind direction [°]']]);

// ===== panel b: salinity =====
const pb = makePanel(178.3, 320, [6.1, 6.9], salTicks);
const ySSS = d3.scaleLinear().domain([5.6, 6.4]).range([320, 178.3]);
const sal1h = sal36.concat(sal1hPeaks).sort(byDay);
pb.plot.append('path').datum(sal1h).attr('d', lineOf(pb.y))
  .attr('fill', 'none').attr('stroke', GRAY).attr('stroke-width', 1.3);
pb.plot.append('path').datum(sal36).attr('d', lineOf(pb.y, smooth))
  .attr('fill', 'none').attr('stroke', '#000').attr('stroke-width', 3.4).attr('stroke-linejoin', 'round');
pb.plot.selectAll('circle').data(ctdDates).join('circle')
  .attr('cx', d => x(day(d))).attr('cy', (d, i) => ySSS(sssCTD[i])).attr('r', 4).attr('fill', MAG);
leftAxis(pb, salTicks);
rightAxis(ySSS, sssTicks, MAG, true);
xAxes(pb, true, false);
svg.append('line').attr('x1', X0).attr('x2', X1).attr('y1', pb.top).attr('y2', pb.top).attr('stroke', AXIS);
richText(svg, 27, 250, -90, [['b) Salinity [g kg'], ['-1', true], [']']]);
richText(svg, 895, 249, -90, [['SSS [g kg'], ['-1', true], [']']], { color: MAG });

const legB = svg.append('g').attr('font-size', 16);
legB.append('line').attr('x1', 204).attr('x2', 252).attr('y1', 193.3).attr('y2', 193.3).attr('stroke', GRAY).attr('stroke-width', 1.6);
legB.append('line').attr('x1', 204).attr('x2', 252).attr('y1', 214.3).attr('y2', 214.3).attr('stroke', '#000').attr('stroke-width', 4);
legB.append('circle').attr('cx', 357.3).attr('cy', 195).attr('r', 4).attr('fill', MAG);
richText(legB, 256.7, 193.3, 0, [['Salinity 1-h']], { anchor: 'start' });
richText(legB, 256.7, 214.3, 0, [['Salinity 36-h']], { anchor: 'start' });
richText(legB, 386.7, 195, 0, [['SSS CTD']], { anchor: 'start' });

// ===== panel c: temperature =====
const pc = makePanel(341, 482.7, [-0.28, 6.29], tempTicks);
const ySST = d3.scaleLinear().domain([-0.18, 25.3]).range([482.7, 341]);
pc.plot.append('path').datum(sstSat).attr('d', lineOf(pc.y))
  .attr('fill', 'none').attr('stroke', '#000').attr('stroke-width', 1.1).attr('stroke-dasharray', '3 2');
const temp1h = temp36.concat(temp1hPeaks).sort(byDay);
pc.plot.append('path').datum(temp1h).attr('d', lineOf(pc.y))
  .attr('fill', 'none').attr('stroke', GRAY).attr('stroke-width', 1.3);
pc.plot.append('path').datum(temp36).attr('d', lineOf(pc.y, smooth))
  .attr('fill', 'none').attr('stroke', '#000').attr('stroke-width', 3.4).attr('stroke-linejoin', 'round');
pc.plot.append('path').datum(sstSat).attr('d', lineOf(ySST))
  .attr('fill', 'none').attr('stroke', MAG).attr('stroke-width', 1.3);
pc.plot.selectAll('circle').data(ctdDates).join('circle')
  .attr('cx', d => x(day(d))).attr('cy', (d, i) => ySST(sstCTD[i])).attr('r', 4).attr('fill', MAG);
leftAxis(pc, tempTicks);
rightAxis(ySST, sstTicks, MAG, true);
xAxes(pc, true, false);
svg.append('line').attr('x1', X0).attr('x2', X1).attr('y1', pc.top).attr('y2', pc.top).attr('stroke', AXIS);
richText(svg, 33, 411, -90, [['c) Temperature [°C]']]);
richText(svg, 886, 412, -90, [['SST [°C]']], { color: MAG });

const legC = svg.append('g');
legC.append('line').attr('x1', 476).attr('x2', 523.3).attr('y1', 424.3).attr('y2', 424.3).attr('stroke', GRAY).attr('stroke-width', 1.6);
legC.append('line').attr('x1', 476).attr('x2', 523.3).attr('y1', 445).attr('y2', 445).attr('stroke', '#000').attr('stroke-width', 4);
legC.append('line').attr('x1', 476).attr('x2', 523.3).attr('y1', 466.7).attr('y2', 466.7).attr('stroke', '#000').attr('stroke-width', 1.1).attr('stroke-dasharray', '3 2');
richText(legC, 529, 424.3, 0, [['Temp. 1-h']], { anchor: 'start' });
richText(legC, 529, 445, 0, [['Temp. 36-h']], { anchor: 'start' });
richText(legC, 529, 466.7, 0, [['SST satellite']], { anchor: 'start' });
legC.append('line').attr('x1', 615).attr('x2', 663.3).attr('y1', 449).attr('y2', 449).attr('stroke', MAG).attr('stroke-width', 1.3);
legC.append('circle').attr('cx', 638.3).attr('cy', 471.7).attr('r', 4).attr('fill', MAG);
richText(legC, 667.3, 449, 0, [['SST satellite']], { anchor: 'start' });
richText(legC, 667.3, 471.7, 0, [['SST CTD']], { anchor: 'start' });

// ===== panel d: oxygen =====
const pd = makePanel(504, 645.7, [0.59, 13.87], doTicks);
pd.plot.append('path').datum(doSat).attr('d', lineOf(pd.y))
  .attr('fill', 'none').attr('stroke', '#000').attr('stroke-width', 3).attr('stroke-dasharray', '2.5 2');
const do1h = do36.concat(do1hPeaks).sort(byDay);
pd.plot.append('path').datum(do1h).attr('d', lineOf(pd.y))
  .attr('fill', 'none').attr('stroke', GRAY).attr('stroke-width', 1.3);
pd.plot.append('path').datum(do36).attr('d', lineOf(pd.y, smooth))
  .attr('fill', 'none').attr('stroke', '#000').attr('stroke-width', 3.4).attr('stroke-linejoin', 'round');
pd.plot.append('line').attr('x1', X0).attr('x2', X1)
  .attr('y1', pd.y(hypoxiaThreshold)).attr('y2', pd.y(hypoxiaThreshold))
  .attr('stroke', '#ff0000').attr('stroke-width', 1.2).attr('stroke-dasharray', '4 3');

const trendColors = ['#ffa500', '#ff00ff', '#22e022', '#ff0000'];
const trendWidths = [2.5, 2.5, 2.5, 3];
trendDays.forEach((dd, i) => {
  pd.plot.append('line')
    .attr('x1', x(day(dd[0]))).attr('x2', x(day(dd[1])))
    .attr('y1', pd.y(trendValues[i][0])).attr('y2', pd.y(trendValues[i][1]))
    .attr('stroke', trendColors[i]).attr('stroke-width', trendWidths[i]).attr('stroke-dasharray', '5 3');
});
// rate labels: position / rotation per label
const rateLabelPos = [[76, 578, 2.5], [367, 579, 13], [576, 597, 3], [729.3, 592, 0]];
trendRates.forEach((r, i) => {
  const [lx, ly, rot] = rateLabelPos[i];
  richText(svg, lx, ly, rot, [[r + ' mg l'], ['-1', true], [' d'], ['-1', true]],
    { anchor: 'start', color: trendColors[i] });
});

leftAxis(pd, doTicks);
rightAxis(pd.y, doTicks, AXIS, false);
svg.append('g').attr('transform', `translate(0,${pd.bottom})`)
  .call(d3.axisBottom(x).tickValues(dateTicks).tickSize(-5).tickSizeOuter(0).tickPadding(10).tickFormat(d3.utcFormat('%d/%m')))
  .call(g => styleAxis(g, AXIS, '#000'));
svg.append('g').attr('transform', `translate(0,${pd.top})`)
  .call(d3.axisTop(x).tickValues(dateTicks).tickSize(-5).tickSizeOuter(0).tickFormat(''))
  .call(g => styleAxis(g, AXIS, '#000'));
richText(svg, 27, 575, -90, [['d) Oxygen [mg l'], ['-1', true], [']']]);
richText(svg, 454, 680, 0, [['Date in 2021']], { size: 19.5 });

// legend box
const legD = svg.append('g');
legD.append('rect').attr('x', 181).attr('y', 552.7).attr('width', 154).attr('height', 93.8)
  .attr('fill', '#fff').attr('stroke', '#333').attr('stroke-width', 0.8);
const legRows = [567.3, 589.3, 612.7, 634];
legD.append('line').attr('x1', 190.7).attr('x2', 239).attr('y1', legRows[0]).attr('y2', legRows[0]).attr('stroke', GRAY).attr('stroke-width', 1.6);
legD.append('line').attr('x1', 190.7).attr('x2', 239).attr('y1', legRows[1]).attr('y2', legRows[1]).attr('stroke', '#000').attr('stroke-width', 4);
legD.append('line').attr('x1', 190.7).attr('x2', 239).attr('y1', legRows[2]).attr('y2', legRows[2]).attr('stroke', '#000').attr('stroke-width', 3).attr('stroke-dasharray', '2.5 2');
legD.append('line').attr('x1', 190.7).attr('x2', 239).attr('y1', legRows[3]).attr('y2', legRows[3]).attr('stroke', '#ff0000').attr('stroke-width', 1.2).attr('stroke-dasharray', '4 3');
['DO 1-h', 'DO 36-h', 'Saturation', 'Hypoxia thr.'].forEach((s, i) =>
  richText(legD, 245, legRows[i], 0, [[s]], { anchor: 'start' }));
</script>
</body>
</html>
